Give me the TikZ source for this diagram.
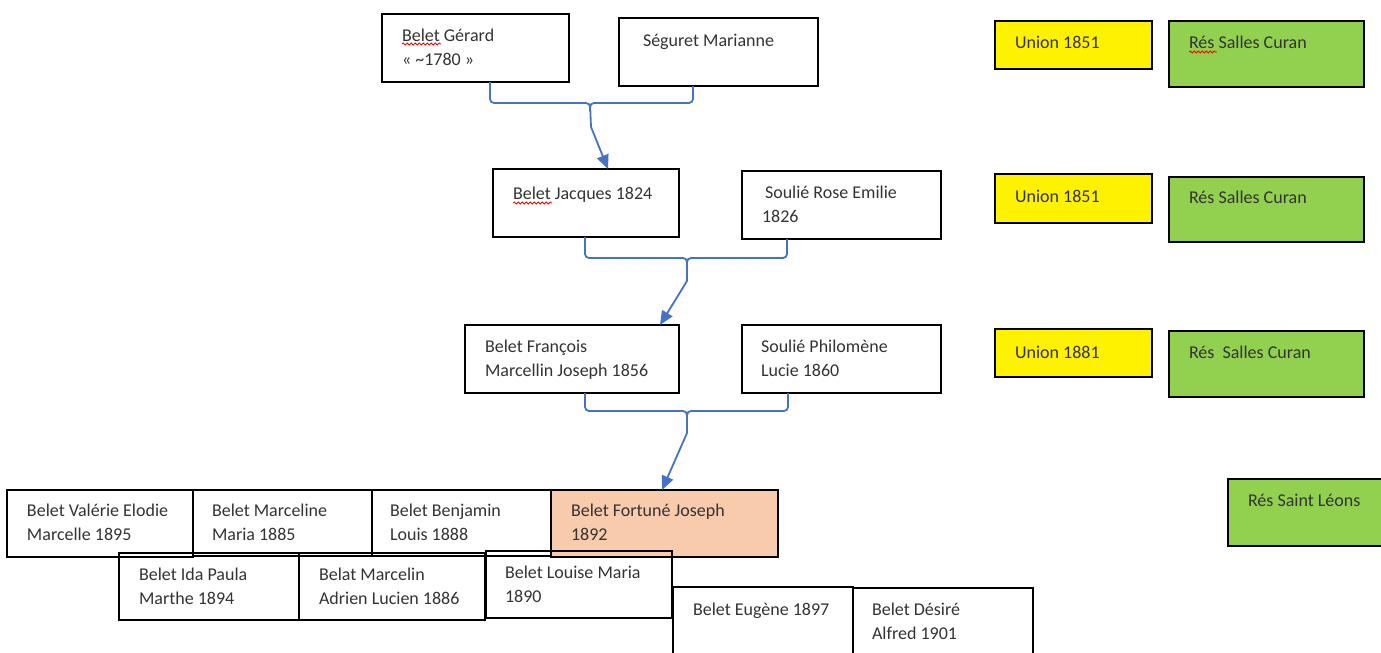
\documentclass[tikz,border=0pt]{standalone}
\usepackage{fontspec}
\setmainfont{Carlito}
\usetikzlibrary{arrows.meta,decorations.pathmorphing}
\definecolor{peach}{HTML}{F8CBAD}
\definecolor{lgreen}{HTML}{92D050}
\definecolor{wblue}{HTML}{4472C4}
\definecolor{ink}{HTML}{333333}
\tikzset{
  pbox/.style={draw=black, line width=1.5pt, inner sep=0pt, outer sep=0pt, rectangle},
  ybox/.style={pbox, fill=yellow},
  gbox/.style={pbox, fill=lgreen},
  obox/.style={pbox, fill=peach},
  txt/.style={inner sep=0pt, outer sep=0pt, align=left, text=ink,
    font=\fontsize{18}{24}\selectfont, anchor=base west},
  brace/.style={draw=wblue, line width=1.8pt, rounded corners=4pt},
  arr/.style={draw=wblue, line width=1.8pt, -{Triangle[length=14pt,width=12pt]}},
  squig/.style={draw=red, line width=0.8pt, decorate,
    decoration={snake, amplitude=1pt, segment length=4pt}}
}
\newcommand\bx[6]{%
  \node[#2, minimum width={#5-#3}, minimum height={#6-#4}, anchor=north west] (#1) at (#3,#4) {};}
\begin{document}
\begin{tikzpicture}[x=1pt,y=-1pt]
\useasboundingbox (0,0) rectangle (1381,653);

% --- generation 1
\bx{gerard}{pbox}{382}{14}{569}{82}
\bx{marianne}{pbox}{619}{18}{818}{86}
\node[txt] (gerard-t) at (402,65) {Belet Gérard\\« \textasciitilde1780 »};
\node[txt] (marianne-t) at (643,46) {Séguret Marianne};

% --- generation 2
\bx{jacques}{pbox}{493}{169}{679}{237}
\bx{rose}{pbox}{742}{171}{941}{239}
\node[txt] (jacques-t) at (513,199) {Belet Jacques 1824};
\node[txt] (rose-t) at (762,222) {\hspace*{3pt}Soulié Rose Emilie\\1826};

% --- generation 3
\bx{francois}{pbox}{465}{325}{679}{393}
\bx{philomene}{pbox}{742}{325}{941}{393}
\node[txt] (francois-t) at (485,376) {Belet François\\Marcellin Joseph 1856};
\node[txt] (philomene-t) at (761,376) {Soulié Philomène\\Lucie 1860};

% --- right column
\bx{union1}{ybox}{995}{21}{1152}{69}
\bx{res1}{gbox}{1169}{21}{1364}{87}
\bx{union2}{ybox}{995}{174}{1152}{223}
\bx{res2}{gbox}{1169}{177}{1364}{242}
\bx{union3}{ybox}{995}{329}{1152}{377}
\bx{res3}{gbox}{1169}{331}{1364}{397}
\bx{leons}{gbox}{1228}{479}{1395}{546}
\node[txt] (union1-t) at (1015,48) {Union 1851};
\node[txt] (res1-t) at (1189,48) {Rés Salles Curan};
\node[txt] (union2-t) at (1015,202) {Union 1851};
\node[txt] (res2-t) at (1189,203) {Rés Salles Curan};
\node[txt] (union3-t) at (1015,358) {Union 1881};
\node[txt] (res3-t) at (1189,358) {Rés\ \ Salles Curan};
\node[txt] (leons-t) at (1248,506) {Rés Saint Léons};

% --- children
\bx{fortune}{obox}{551}{490}{778}{557}
\bx{valerie}{pbox}{7}{490}{193}{557}
\bx{marceline}{pbox}{193}{490}{372}{556}
\bx{benjamin}{pbox}{372}{490}{551}{556}
\bx{ida}{pbox}{119}{553}{299}{620}
\bx{marcelin}{pbox}{299}{553}{485}{620}
\bx{louise}{pbox}{486}{551}{672}{618}
\bx{eugene}{pbox}{673}{587}{853}{670}
\bx{desire}{pbox}{853}{588}{1033}{670}
\node[txt] (valerie-t) at (27,540) {Belet Valérie Elodie\\Marcelle 1895};
\node[txt] (marceline-t) at (212,540) {Belet Marceline\\Maria 1885};
\node[txt] (benjamin-t) at (390,540) {Belet Benjamin\\Louis 1888};
\node[txt] (fortune-t) at (571,540) {Belet Fortuné Joseph\\1892};
\node[txt] (ida-t) at (139,604) {Belet Ida Paula\\Marthe 1894};
\node[txt] (marcelin-t) at (319,604) {Belat Marcelin\\Adrien Lucien 1886};
\node[txt] (louise-t) at (505,602) {Belet Louise Maria\\1890};
\node[txt] (eugene-t) at (693,615) {Belet Eugène 1897};
\node[txt] (desire-t) at (872,639) {Belet Désiré\\Alfred 1901};

% --- braces and arrows
\coordinate (b1l) at (490,103); \coordinate (b1r) at (693,103);
\coordinate (b1m) at (590,103); \coordinate (b1s) at (591,127);
\draw[brace] (gerard.south -| b1l) -- (b1l) -- (b1m) -- (b1s);
\draw[brace] (marianne.south -| b1r) -- (b1r) -- (b1m) -- ++(0,8);
\draw[arr] (b1s) -- ([xshift=115pt]jacques.north west);

\coordinate (b2l) at (585,258); \coordinate (b2r) at (787,258);
\coordinate (b2m) at (687,258); \coordinate (b2s) at (687,281);
\draw[brace] (jacques.south -| b2l) -- (b2l) -- (b2m) -- (b2s);
\draw[brace] (rose.south -| b2r) -- (b2r) -- (b2m) -- ++(0,8);
\draw[arr] (b2s) -- ([xshift=195pt]francois.north west);

\coordinate (b3l) at (585,411); \coordinate (b3r) at (788,411);
\coordinate (b3m) at (687,411); \coordinate (b3s) at (687,433);
\draw[brace] (francois.south -| b3l) -- (b3l) -- (b3m) -- (b3s);
\draw[brace] (philomene.south -| b3r) -- (b3r) -- (b3m) -- ++(0,8);
\draw[arr] (b3s) -- ([xshift=111pt]fortune.north west);

% --- spelling marks
\draw[squig] (402,44) -- (441,44);
\draw[squig] (513,203) -- (552,203);
\draw[squig] (1189,52) -- (1217,52);
\end{tikzpicture}
\end{document}
